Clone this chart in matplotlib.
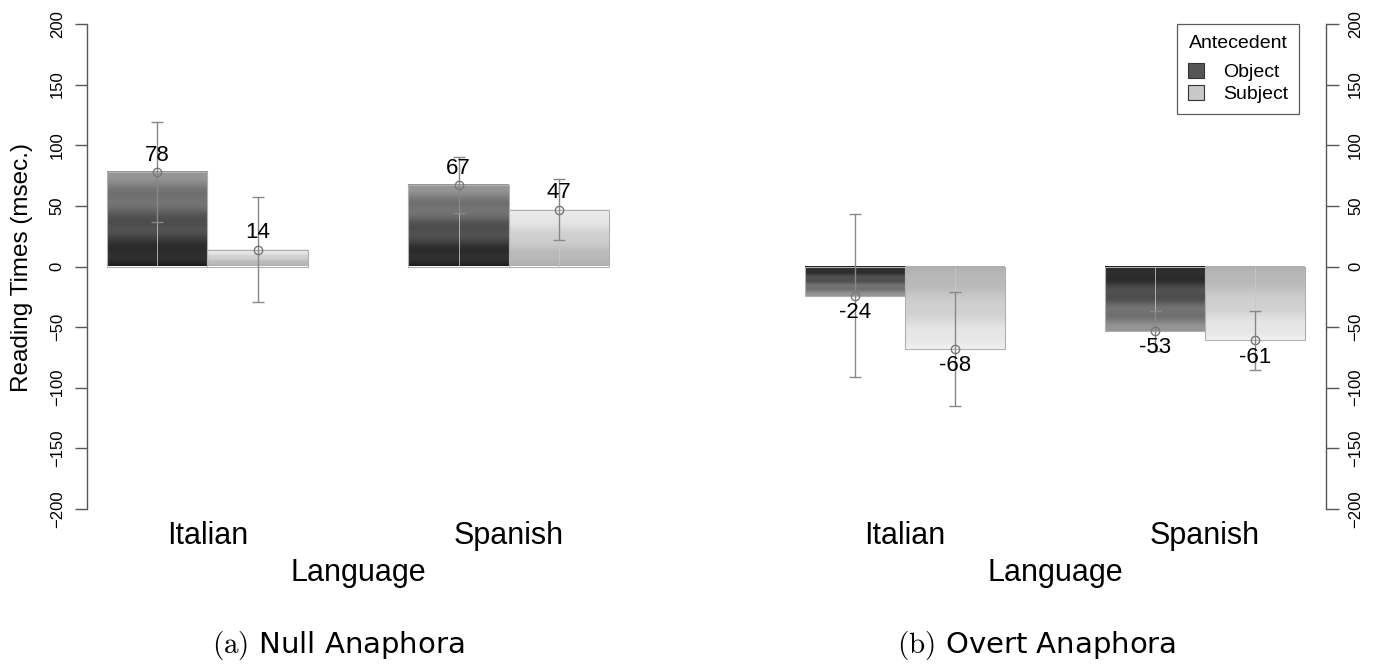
import numpy as np
import matplotlib
matplotlib.use("Agg")
import matplotlib.pyplot as plt
from matplotlib.patches import Patch

plt.rcParams['font.family'] = ['Liberation Sans', 'DejaVu Sans']
plt.rcParams['mathtext.fontset'] = 'cm'

# ---- data ----
languages = ["Italian", "Spanish"]
antecedents = ["Object", "Subject"]
null_means = {"Object": [78, 67], "Subject": [14, 47]}
null_err = {"Object": [41, 23], "Subject": [43, 25]}
overt_means = {"Object": [-24, -53], "Subject": [-68, -61]}
overt_err = {"Object": [67, 16.5], "Subject": [47, 24]}
yticks = [-200, -150, -100, -50, 0, 50, 100, 150, 200]
captions = [r"$\mathrm{(a)}$ Null Anaphora", r"$\mathrm{(b)}$ Overt Anaphora"]

W, H = 1379, 671
fig = plt.figure(figsize=(W / 100, H / 100), dpi=100)


def px_axes(x0, x1, y0, y1):
    return fig.add_axes([x0 / W, 1 - y1 / H, (x1 - x0) / W, (y1 - y0) / H])


def grad_values(kind, n=200):
    t = np.linspace(0, 1, n)
    if kind == "Object":
        v = 0.11 + 0.47 * t + 0.035 * np.sin(2 * np.pi * 3.5 * t)
    else:
        v = 0.68 + 0.27 * t + 0.012 * np.sin(2 * np.pi * 3.0 * t)
    return np.clip(v, 0, 1)


spine_col = "#555555"
err_col = "#888888"


def draw_panel(ax, means, errs, side, xlim):
    group_starts = [1, 4]
    for j, ant in enumerate(antecedents):
        xs = [g + j + 0.5 for g in group_starts]
        bars = ax.bar(xs, means[ant], width=1.0, facecolor="none",
                      edgecolor="#b0b0b0", linewidth=0.8, zorder=3)
        for b, m in zip(bars, means[ant]):
            x0 = b.get_x()
            x1 = x0 + b.get_width()
            v = grad_values(ant)
            img = np.repeat(v[:, None], 2, axis=1)
            img = np.dstack([img, img, img])
            if m >= 0:
                ax.imshow(img, extent=[x0, x1, 0, m], origin="lower",
                          aspect="auto", zorder=2, interpolation="bilinear")
            else:
                ax.imshow(img, extent=[x0, x1, m, 0], origin="upper",
                          aspect="auto", zorder=2, interpolation="bilinear")
        ax.vlines(xs, 0, means[ant], color="#c8c8c8", lw=0.7, alpha=0.8, zorder=3.5)
        ax.errorbar(xs, means[ant], yerr=errs[ant], fmt="o", ms=6, mfc="none",
                    mec="#777777", mew=1.0, ecolor=err_col, elinewidth=1.0,
                    capsize=4.5, capthick=1.0, zorder=4)
        for x, m in zip(xs, means[ant]):
            off = 12 if m >= 0 else -12
            ax.annotate(f"{m}", (x, m), xytext=(0, off), textcoords="offset points",
                        ha="center", va="center", fontsize=16, zorder=6)
    ax.set_xlim(*xlim)
    ax.set_ylim(-200, 200)
    ax.set_yticks(yticks)
    for s in ["top", "bottom", "left", "right"]:
        ax.spines[s].set_visible(False)
    sp = ax.spines[side]
    sp.set_visible(True)
    sp.set_bounds(-200, 200)
    sp.set_color(spine_col)
    sp.set_linewidth(1.0)
    ax.tick_params(axis="y", which="both", direction="out", length=9,
                   color=spine_col, width=1.0, labelsize=12, pad=7,
                   left=(side == "left"), labelleft=(side == "left"),
                   right=(side == "right"), labelright=(side == "right"))
    for lab in ax.get_yticklabels():
        lab.set_rotation(90)
        lab.set_va("center")
    ax.set_xticks([])
    ax.patch.set_alpha(0)
    for g, lang in zip(group_starts, languages):
        ax.text(g + 1, -222, lang, ha="center", va="center", fontsize=22,
                clip_on=False)
    ax.text(3.5, -253, "Language", ha="center", va="center", fontsize=22,
            clip_on=False)


ax1 = px_axes(87, 667, 24, 509)
draw_panel(ax1, null_means, null_err, "left",
           (1 - 20 / 100.5, 1 + 560 / 100.5))
fig.text(22 / W, 1 - 267 / H, "Reading Times (msec.)", rotation=90,
         ha="center", va="center", fontsize=17.5)

ax2 = px_axes(745, 1326, 24, 509)
draw_panel(ax2, overt_means, overt_err, "right",
           (1 - 60 / 100.0, 1 + 521 / 100.0))

handles = [Patch(facecolor="#555555", edgecolor="#333333", lw=0.8),
           Patch(facecolor="#c8c8c8", edgecolor="#333333", lw=0.8)]
leg = fig.legend(handles, antecedents, title="Antecedent", loc="upper right",
                 bbox_to_anchor=(1299 / W, 1 - 24 / H), fontsize=14,
                 title_fontsize=14, frameon=True, fancybox=False,
                 handlelength=0.8, handleheight=0.8, handletextpad=1.0,
                 labelspacing=0.2, borderpad=0.55, borderaxespad=0)
leg._legend_box.sep = 8
leg.get_frame().set_edgecolor("#333333")
leg.get_frame().set_linewidth(0.9)

fig.text(338 / W, 1 - 645 / H, captions[0], ha="center", va="center",
         fontsize=21, family="DejaVu Sans")
fig.text(1037 / W, 1 - 645 / H, captions[1], ha="center", va="center",
         fontsize=21, family="DejaVu Sans")

fig.savefig("out.png", dpi=100)
